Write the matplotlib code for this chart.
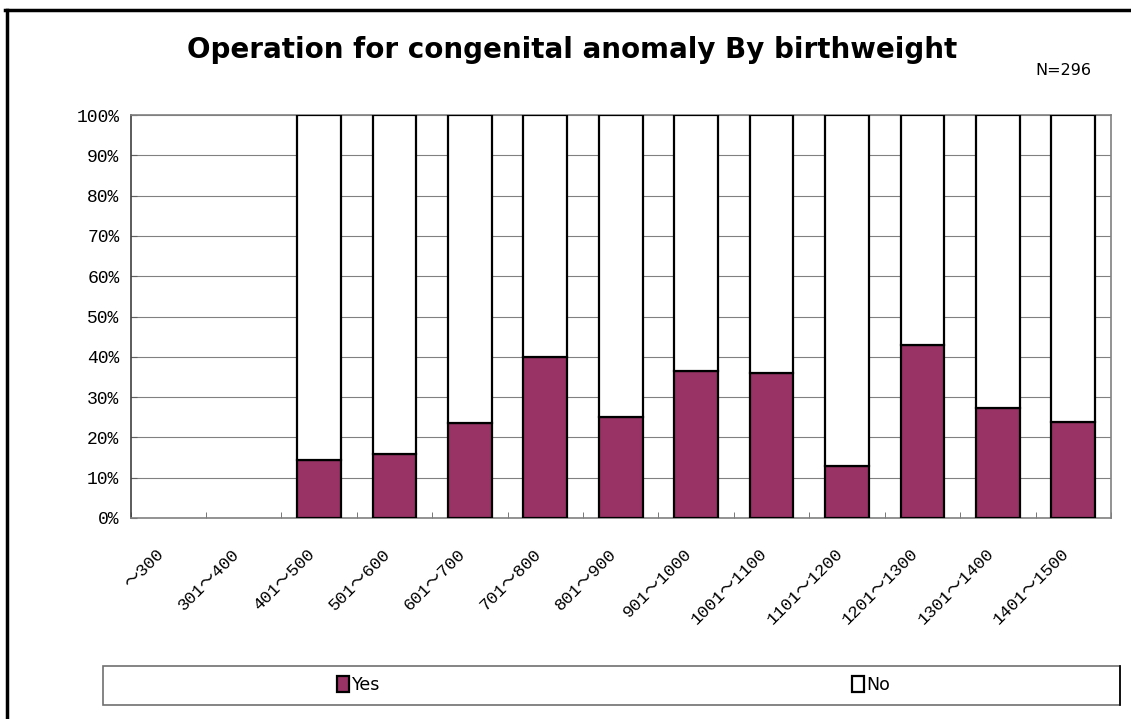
import matplotlib.pyplot as plt
from matplotlib.patches import Rectangle
from matplotlib.lines import Line2D
import matplotlib.transforms as mtransforms
import numpy as np

categories = ["～300", "301～400", "401～500", "501～600", "601～700", "701～800",
              "801～900", "901～1000", "1001～1100", "1101～1200", "1201～1300",
              "1301～1400", "1401～1500"]
yes_pct = [0, 0, 14.3, 15.8, 23.5, 40.0, 25.0, 36.4, 36.0, 12.9, 42.9, 27.3, 23.8]
no_pct = [0, 0, 85.7, 84.2, 76.5, 60.0, 75.0, 63.6, 64.0, 87.1, 57.1, 72.7, 76.2]

fig = plt.figure(figsize=(11.31, 7.19), dpi=100)
ax = fig.add_axes([0.1154, 0.2796, 0.8669, 0.5604])

x = np.arange(len(categories))
# empty categories get no outline
lw = [1.6 if (a + b) > 0 else 0 for a, b in zip(yes_pct, no_pct)]
ax.bar(x, yes_pct, width=0.58, color="#993366", edgecolor="black", linewidth=lw, zorder=3)
ax.bar(x, no_pct, width=0.58, bottom=yes_pct, color="white", edgecolor="black", linewidth=lw, zorder=3)

ax.set_xlim(-0.5, len(categories) - 0.5)
ax.set_ylim(0, 100)
ax.set_yticks(np.arange(0, 101, 10))
ax.set_yticklabels([f"{v}%" for v in range(0, 101, 10)], family="Liberation Mono", fontsize=13)
ax.yaxis.grid(True, color="#808080", linewidth=0.8, zorder=0)
ax.tick_params(axis="y", direction="in", length=4, color="#606060", pad=8)

ax.set_xticks(x)
ax.set_xticklabels(categories, rotation=45, ha="right", va="top", rotation_mode="anchor",
                   family=["Liberation Mono", "Noto Sans CJK JP"], fontsize=12.5)
ax.tick_params(axis="x", length=0, pad=20)
shift = mtransforms.ScaledTranslation(-12 / 100, 0, fig.dpi_scale_trans)
for lab in ax.get_xticklabels():
    lab.set_transform(lab.get_transform() + shift)
ax.set_xticks(np.arange(-0.5, len(categories), 1), minor=True)
ax.tick_params(axis="x", which="minor", direction="in", length=4, color="#606060")

for side in ["left", "bottom", "right", "top"]:
    ax.spines[side].set_color("#808080")
    ax.spines[side].set_linewidth(1.2)
ax.spines["left"].set_color("#404040")

fig.text(0.506, 0.930, "Operation for congenital anomaly By birthweight",
         ha="center", va="center", fontsize=20, fontweight="bold", family="DejaVu Sans")
fig.text(0.940, 0.902, "N=296", ha="center", va="center", fontsize=11.5, family="DejaVu Sans")

# legend box
fig.patches.append(Rectangle((0.091, 0.0195), 0.899, 0.0545, transform=fig.transFigure,
                             facecolor="white", edgecolor="#707070", linewidth=1.2))
fig.add_artist(Line2D([0.990, 0.990], [0.0195, 0.074], transform=fig.transFigure,
                      color="black", linewidth=1.2))
h_yes = Rectangle((0, 0), 1, 1, facecolor="#993366", edgecolor="black", linewidth=1.6)
h_no = Rectangle((0, 0), 1, 1, facecolor="white", edgecolor="black", linewidth=1.6)
fig.legend([h_yes], ["Yes"], loc="center", bbox_to_anchor=(0.317, 0.047), frameon=False,
           handlelength=0.7, handleheight=1.0, handletextpad=0.15,
           prop={"family": "Liberation Sans Narrow", "size": 12.5})
fig.legend([h_no], ["No"], loc="center", bbox_to_anchor=(0.770, 0.047), frameon=False,
           handlelength=0.7, handleheight=1.0, handletextpad=0.15,
           prop={"family": "Liberation Sans Narrow", "size": 12.5})

# outer frame (top and left edges visible)
fig.add_artist(Line2D([0.004, 1.0], [0.9855, 0.9855], transform=fig.transFigure,
                      color="black", linewidth=2.5))
fig.add_artist(Line2D([0.0062, 0.0062], [0.0, 0.9865], transform=fig.transFigure,
                      color="black", linewidth=2.5))

fig.savefig("out.png", dpi=100)
